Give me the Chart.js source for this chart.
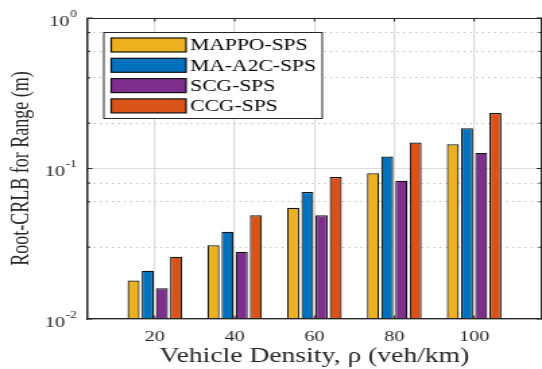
<!DOCTYPE html>
<html>
<head>
<meta charset="utf-8">
<script src="https://cdn.jsdelivr.net/npm/chart.js@4.4.0/dist/chart.umd.min.js"></script>
<style>
html, body { margin: 0; padding: 0; background: #fff; }
</style>
</head>
<body>
<canvas id="myChart" width="402" height="369" style="display:block;width:542px;height:369px;"></canvas>
<script>
// données (échelle log)
var densities = [20, 40, 60, 80, 100];
var mappo = [0.0180, 0.0309, 0.0549, 0.0929, 0.145];
var maa2c = [0.0209, 0.0380, 0.0698, 0.120, 0.185];
var scg = [0.0160, 0.0280, 0.0489, 0.083, 0.127];
var ccg = [0.0259, 0.0489, 0.0878, 0.149, 0.234];
var seriesNames = ["MAPPO-SPS", "MA-A2C-SPS", "SCG-SPS", "CCG-SPS"];
var seriesColors = ["#EDB120", "#0072BD", "#7E2F8E", "#D95319"];

var serif = "'Liberation Serif', 'Times New Roman', serif";
var axisColor = "#262626";

function isPow10(v) {
    var l = Math.log10(v);
    return Math.abs(l - Math.round(l)) < 1e-6;
}

function points(values) {
    return densities.map(function (d, i) { return { x: d, y: values[i] }; });
}

var allSeries = [mappo, maa2c, scg, ccg];
var datasets = allSeries.map(function (vals, i) {
    return {
        label: seriesNames[i],
        data: points(vals),
        backgroundColor: seriesColors[i],
        borderColor: "#111",
        borderWidth: 1.2,
        categoryPercentage: 0.71,
        barPercentage: 0.85
    };
});

// boite + petits traits vers l'intérieur (style matlab)
var boxPlugin = {
    id: "boxTicks",
    afterDatasetsDraw: function (chart) {
        var c = chart.ctx, a = chart.chartArea;
        var xs = chart.scales.x, ys = chart.scales.y;
        c.save();
        c.strokeStyle = axisColor;
        c.lineWidth = 1;
        c.strokeRect(a.left + 0.5, a.top + 0.5, a.right - a.left - 1, a.bottom - a.top - 1);
        c.beginPath();
        ys.ticks.forEach(function (t) {
            var py = ys.getPixelForValue(t.value);
            var len = isPow10(t.value) ? 4 : 2.5;
            c.moveTo(a.left, py); c.lineTo(a.left + len, py);
            c.moveTo(a.right, py); c.lineTo(a.right - len, py);
        });
        densities.forEach(function (d) {
            var px = xs.getPixelForValue(d);
            c.moveTo(px, a.top); c.lineTo(px, a.top + 3.5);
            c.moveTo(px, a.bottom); c.lineTo(px, a.bottom - 3.5);
        });
        c.stroke();

        // étiquettes 10^k
        c.fillStyle = axisColor;
        c.textBaseline = "middle";
        c.textAlign = "right";
        ys.ticks.forEach(function (t) {
            if (!isPow10(t.value)) return;
            var py = ys.getPixelForValue(t.value);
            var e = String(Math.round(Math.log10(t.value)));
            var xr = a.left - 7.5;
            c.font = "10px " + serif;
            c.fillText(e, xr, py - 4);
            var ew = c.measureText(e).width;
            c.font = "15px " + serif;
            c.fillText("10", xr - ew - 0.5, py + 4);
        });
        c.restore();
    },
    afterDraw: function (chart) {
        var c = chart.ctx, a = chart.chartArea;
        var bx = a.left + 12, by = a.top + 14, bw = 162, bh = 86;
        c.save();
        c.fillStyle = "#fff";
        c.fillRect(bx, by, bw, bh);
        c.strokeStyle = axisColor;
        c.lineWidth = 1;
        c.strokeRect(bx + 0.5, by + 0.5, bw, bh);
        chart.data.datasets.forEach(function (ds, i) {
            var cy = by + 13 + i * 20.3;
            c.fillStyle = ds.backgroundColor;
            c.fillRect(bx + 6, cy - 7, 55.5, 14);
            c.strokeStyle = "#111";
            c.lineWidth = 1.2;
            c.strokeRect(bx + 6, cy - 7, 55.5, 14);
            c.fillStyle = "#000";
            c.font = "16px " + serif;
            c.textBaseline = "middle";
            c.textAlign = "left";
            c.fillText(ds.label, bx + 64.5, cy + 1);
        });
        c.restore();
    }
};

var ctx = document.getElementById("myChart");
var myChart = new Chart(ctx, {
    type: "bar",
    data: { datasets: datasets },
    options: {
        responsive: false,
        animation: false,
        layout: { padding: { top: 18, right: 0, bottom: 0, left: 0 } },
        plugins: {
            legend: { display: false },
            tooltip: { enabled: false }
        },
        scales: {
            x: {
                type: "linear",
                min: 3,
                max: 117,
                offset: false,
                afterBuildTicks: function (scale) {
                    scale.ticks = densities.map(function (d) { return { value: d }; });
                },
                afterFit: function (scale) { scale.height = 50; },
                ticks: {
                    font: { family: serif, size: 15 },
                    color: axisColor,
                    padding: 9,
                    maxRotation: 0
                },
                grid: { color: "#dcdcdc", lineWidth: 1.2, drawTicks: false, offset: false },
                border: { color: axisColor, width: 1.3 },
                title: {
                    display: true,
                    text: "Vehicle Density, ρ (veh/km)",
                    font: { family: serif, size: 20.5 },
                    color: axisColor,
                    padding: { top: 0, bottom: 0 }
                }
            },
            y: {
                type: "logarithmic",
                min: 0.01,
                max: 1,
                afterFit: function (scale) { scale.width = 64.5; },
                ticks: {
                    callback: function () { return ""; }
                },
                grid: {
                    drawTicks: false,
                    color: function (c) {
                        if (!c.tick) return "#dcdcdc";
                        return isPow10(c.tick.value) ? "#dcdcdc" : "#bdbdbd";
                    },
                    lineWidth: 1
                },
                border: {
                    color: axisColor,
                    width: 1,
                    dash: function (c) {
                        if (!c.tick) return [];
                        return isPow10(c.tick.value) ? [] : [1.3, 3.2];
                    }
                },
                title: {
                    display: true,
                    text: "Root-CRLB for Range (m)",
                    font: { family: serif, size: 18 },
                    color: axisColor,
                    padding: { top: 5.5, bottom: 0 }
                }
            }
        }
    },
    plugins: [boxPlugin]
});
</script>
</body>
</html>
